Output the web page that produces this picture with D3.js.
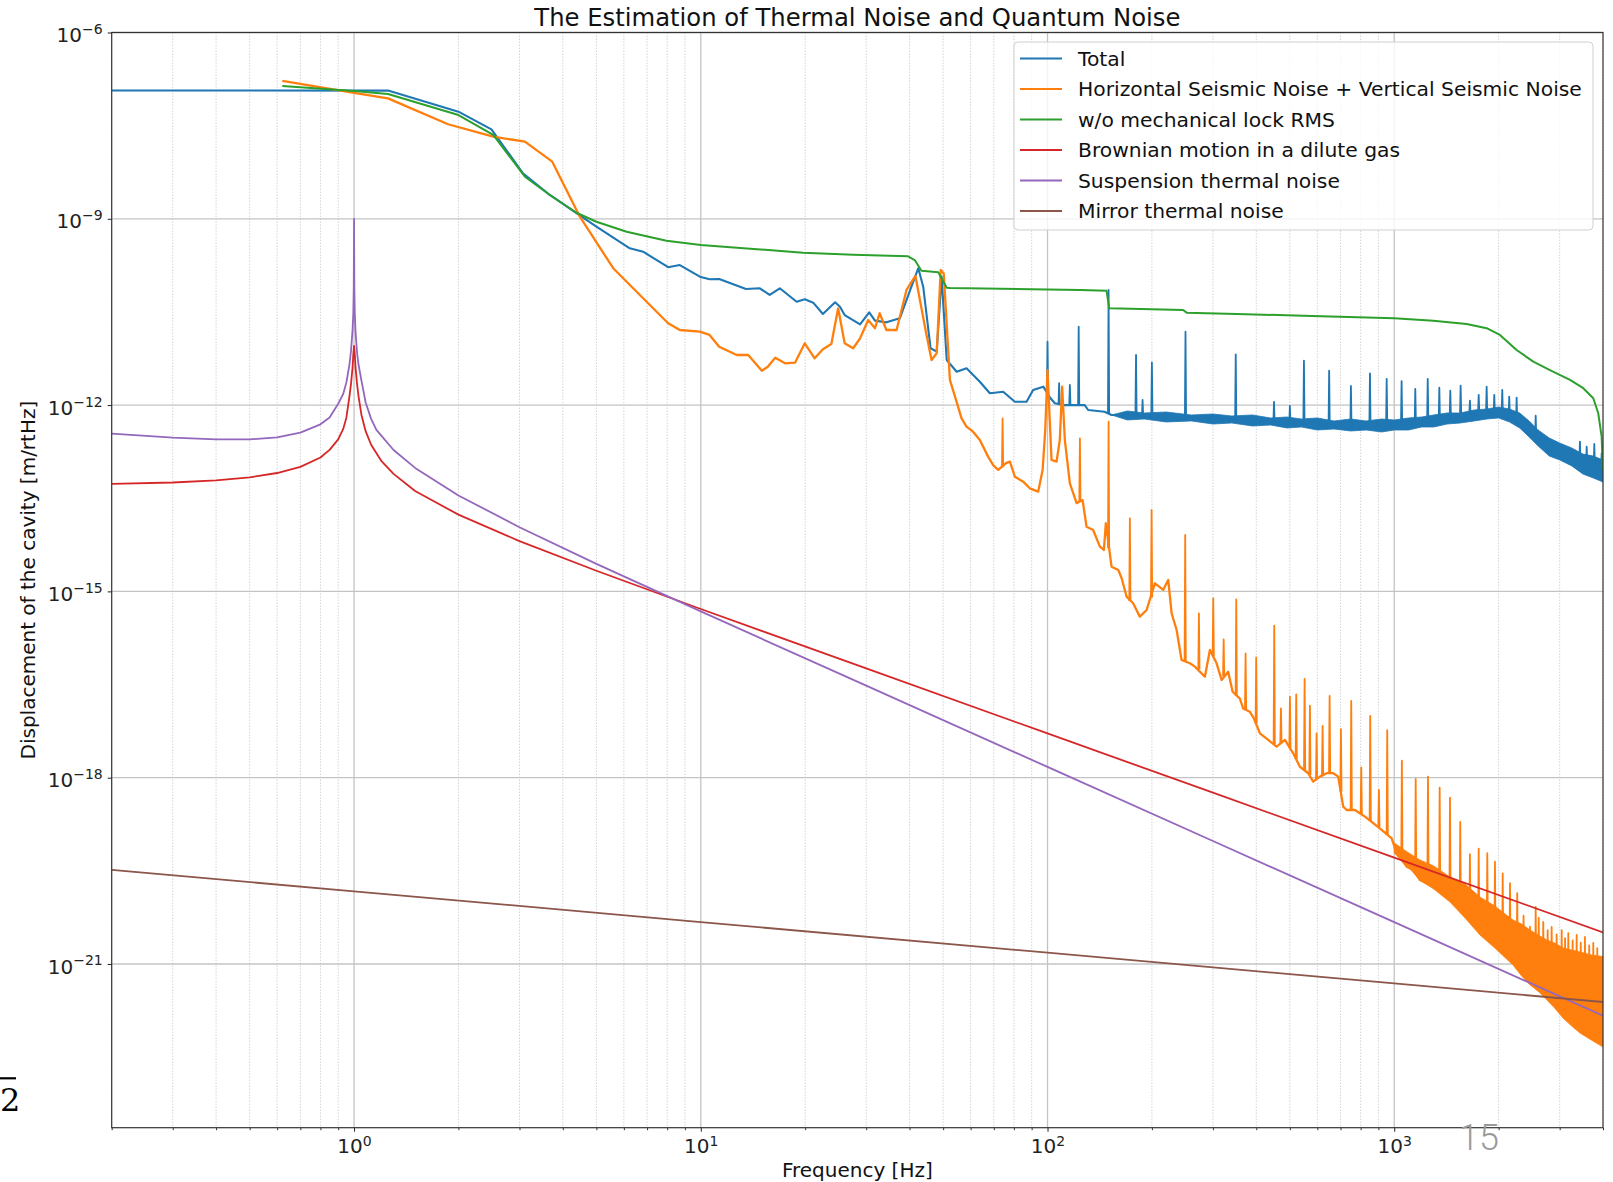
<!DOCTYPE html>
<html lang="en">
<head>
<meta charset="UTF-8">
<title>The Estimation of Thermal Noise and Quantum Noise</title>
<script src="https://d3js.org/d3.v7.min.js"></script>
<style>
  body { margin: 0; background: #fff; }
  svg { display: block; }
</style>
</head>
<body>
<div id="chart"></div>
<script>
const width = 1613;
const height = 1182;

// plot box in pixels
const plotLeft = 111.7, plotRight = 1603, plotTop = 32.5, plotBottom = 1127.7;

// ---------- values ----------
const seriesNames = [
  "Total",
  "Horizontal Seismic Noise + Vertical Seismic Noise",
  "w/o mechanical lock RMS",
  "Brownian motion in a dilute gas",
  "Suspension thermal noise",
  "Mirror thermal noise"
];

const xMajorTicks = [1, 10, 100, 1000];
const yMajorTicks = [1e-6, 1e-9, 1e-12, 1e-15, 1e-18, 1e-21];

// Total [Hz], [m/rtHz] - floor of the curve
const totalFreq = [0.2, 1.253, 2.0, 2.49, 3.07, 3.67, 4.38, 5.0, 6.24, 6.82, 8.05, 8.7, 9.94, 10.6, 11.3, 13.5, 14.8, 15.8, 16.9, 18.9,
  19.95, 21.1, 22.5, 24.4, 25.2, 26.0, 28.8, 30.6, 31.8, 34.3, 37.5, 40.5, 42.4, 43.8, 46.0, 47.9, 49.5, 51.2, 54.7, 58.4,
  63.8, 68.2, 74.5, 80.5, 87.0, 90.9, 97.2, 102, 105, 111, 119, 128, 131, 146, 153, 173, 183, 193.5, 204, 225,
  244, 256, 294, 342, 356, 438, 462, 510, 560, 635, 661, 735, 765, 834, 868, 934, 972, 1031, 1067, 1132,
  1170, 1227, 1268, 1328, 1373, 1429, 1477, 1526, 1578, 1632, 1675, 1726, 1778, 1820, 1875, 1913, 1977, 2018, 2086, 2113,
  2185, 2222, 2289, 2512, 2597, 2812, 3148, 3388, 3478, 3668, 3843, 4000];
const totalAmp = [1.165e-7, 1.16e-7, 5.31e-8, 2.76e-8, 5.41e-9, 2.42e-9, 1.23e-9, 7.46e-10, 3.35e-10, 2.95e-10, 1.66e-10, 1.80e-10, 1.17e-10, 1.06e-10, 1.07e-10, 7.41e-11, 7.60e-11, 5.93e-11, 7.60e-11, 4.62e-11,
  5.06e-11, 4.46e-11, 2.93e-11, 4.52e-11, 3.84e-11, 2.82e-11, 2.00e-11, 3.12e-11, 2.29e-11, 2.15e-11, 2.50e-11, 8.07e-11, 1.60e-10, 8.07e-11, 8.22e-12, 7.24e-12, 1.17e-10, 5.32e-12, 3.45e-12, 3.92e-12,
  2.38e-12, 1.55e-12, 1.64e-12, 1.13e-12, 1.13e-12, 1.75e-12, 1.98e-12, 1.29e-12, 1.07e-12, 1.00e-12, 1.00e-12, 1.00e-12, 8.34e-13, 7.83e-13, 6.93e-13, 6.93e-13, 6.50e-13, 6.67e-13, 6.19e-13, 7.19e-13,
  5.97e-13, 6.19e-13, 6.43e-13, 5.75e-13, 5.55e-13, 5.35e-13, 5.15e-13, 4.97e-13, 4.79e-13, 4.44e-13, 4.44e-13, 4.28e-13, 4.28e-13, 4.44e-13, 4.44e-13, 4.6e-13, 4.6e-13, 4.79e-13, 4.97e-13, 5.15e-13,
  5.15e-13, 5.55e-13, 5.55e-13, 5.97e-13, 5.97e-13, 6.43e-13, 6.43e-13, 6.93e-13, 6.93e-13, 7.19e-13, 7.46e-13, 7.75e-13, 7.75e-13, 7.75e-13, 7.75e-13, 7.46e-13, 7.46e-13, 7.46e-13, 6.93e-13, 6.68e-13,
  6.19e-13, 5.75e-13, 4.79e-13, 3.06e-13, 2.74e-13, 1.89e-13, 1.46e-13, 1.21e-13, 1.18e-13, 1.05e-13, 9.7e-14, 8.4e-14];

// Total - narrow lines (frequency, peak, level at the foot)
const totalSpikeFreq = [100, 108, 116, 123, 150, 180, 188, 200, 250, 349, 450, 500, 549, 649, 750, 851, 951, 1050, 1150, 1249,
  1349, 1451, 1554, 1653, 1752, 1847, 1943, 2049, 2146, 2254, 2558, 3432, 3589, 3775, 3964];
const totalSpikePeak = [1.05e-11, 2.25e-12, 2.11e-12, 1.83e-11, 7.14e-11, 6.41e-12, 1.21e-12, 4.89e-12, 1.52e-11, 6.58e-12, 1.13e-12, 9.68e-13, 5.19e-12, 3.58e-12, 2.03e-12, 3.25e-12, 2.63e-12, 2.44e-12, 1.82e-12, 2.63e-12,
  1.91e-12, 1.71e-12, 2.05e-12, 1.18e-12, 1.46e-12, 1.98e-12, 1.46e-12, 1.75e-12, 1.37e-12, 1.32e-12, 6.75e-13, 2.58e-13, 2.14e-13, 2.37e-13, 1.67e-13];
const totalSpikeFoot = [1.5e-12, 1.03e-12, 1.0e-12, 1.0e-12, 7.3e-13, 6.7e-13, 6.6e-13, 6.4e-13, 6.1e-13, 5.6e-13, 5.2e-13, 5.0e-13, 4.85e-13, 4.44e-13, 4.28e-13, 4.44e-13, 4.6e-13, 4.9e-13, 5.15e-13, 5.55e-13,
  5.97e-13, 6.43e-13, 6.93e-13, 7.3e-13, 7.75e-13, 7.75e-13, 7.46e-13, 7.2e-13, 6.4e-13, 5.3e-13, 2.9e-13, 1.2e-13, 1.1e-13, 1.0e-13, 9.0e-14];

// Total - spread of the dense noise
const totalBandFreq = [153, 170, 190, 220, 260, 300, 340, 390, 440, 490, 540, 600, 670, 750, 830, 920, 1000, 1100, 1200, 1300,
  1420, 1550, 1700, 1850, 2000, 2150, 2300, 2450, 2600, 2800, 3000, 3250, 3500, 3750, 4000];
const totalBandHigh = [6.93e-13, 8.04e-13, 7.46e-13, 7.74e-13, 6.93e-13, 7.19e-13, 6.67e-13, 6.93e-13, 6.20e-13, 6.43e-13, 5.97e-13, 6.20e-13, 5.55e-13, 5.97e-13, 5.55e-13, 5.97e-13, 5.76e-13, 6.20e-13, 6.43e-13, 6.93e-13,
  7.46e-13, 7.46e-13, 8.34e-13, 8.65e-13, 9.32e-13, 8.65e-13, 7.46e-13, 5.55e-13, 3.97e-13, 2.95e-13, 2.45e-13, 2.04e-13, 1.63e-13, 1.51e-13, 1.31e-13];
const totalBandLow = [6.93e-13, 5.76e-13, 5.97e-13, 5.35e-13, 5.55e-13, 4.96e-13, 5.15e-13, 4.61e-13, 4.78e-13, 4.28e-13, 4.44e-13, 3.97e-13, 4.12e-13, 3.83e-13, 3.97e-13, 3.69e-13, 3.97e-13, 3.97e-13, 4.44e-13, 4.44e-13,
  4.96e-13, 5.15e-13, 5.55e-13, 5.97e-13, 6.20e-13, 5.35e-13, 4.28e-13, 3.06e-13, 2.19e-13, 1.51e-13, 1.31e-13, 1.05e-13, 7.77e-14, 6.70e-14, 5.78e-14];

// Horizontal + Vertical seismic noise - floor of the curve
const seismicFreq = [0.621, 1.0, 1.253, 1.867, 2.52, 3.11, 3.73, 4.48, 5.59, 6.98, 8.05, 8.7, 9.94, 10.6, 11.3, 12.7, 13.7, 15.0, 15.6, 16.4,
  17.5, 18.7, 19.95, 21.3, 22.5, 23.8, 24.9, 26.0, 27.5, 28.8, 30.4, 31.8, 32.8, 34.3, 36.7, 39.2, 41.6, 44.3, 46.3, 47.9,
  49.2, 50.2, 52.3, 54.1, 56.5, 58.4, 61.0, 63.8, 67.4, 69.7, 72.1, 75.9, 77.9, 80.5, 85.1, 88.9, 94.0, 96.8, 98.5, 100,
  102.7, 106.2, 108.5, 110.2, 112.2, 116, 121.3, 126.2, 129.6, 135.4, 141.6, 145.4, 147.3, 153, 160, 163.6, 169.1, 176.6, 184.6, 193.1,
  204, 215.7, 222.9, 228, 235.7, 243.6, 257.4, 266.1, 284.4, 294, 307.4, 317.8, 331.9, 341.9, 358.8, 366.7, 383.4, 393.8, 409.8, 433.1,
  457.9, 483.9, 511.2, 534.5, 564.8, 583.8, 610.3, 638.3, 666.8, 689.3, 712.7, 729, 770.2, 823.1, 869.8, 919.5, 983, 1016, 1086, 1134,
  1186, 1296, 1400, 1497, 1618, 1709, 1787, 1910, 2018, 2133, 2254, 2305, 2431, 2512, 2594, 2757, 2927, 3108, 3255, 3454,
  3644, 3843, 4000];
const seismicAmp = [1.66e-7, 1.07e-7, 8.71e-8, 3.33e-8, 2.10e-8, 1.75e-8, 8.32e-9, 1.08e-9, 1.60e-10, 4.62e-11, 2.08e-11, 1.62e-11, 1.52e-11, 1.35e-11, 8.71e-12, 6.41e-12, 6.41e-12, 3.58e-12, 4.15e-12, 5.79e-12,
  4.71e-12, 4.82e-12, 9.89e-12, 5.67e-12, 7.93e-12, 9.64e-12, 3.62e-11, 9.89e-12, 8.22e-12, 1.19e-11, 2.34e-11, 1.73e-11, 3.01e-11, 1.62e-11, 1.62e-11, 7.14e-11, 1.20e-10, 1.83e-11, 5.32e-12, 6.83e-12,
  1.50e-10, 1.32e-10, 2.54e-12, 1.37e-12, 6.12e-13, 4.49e-13, 3.73e-13, 2.74e-13, 1.48e-13, 1.08e-13, 9.02e-14, 1.16e-13, 1.23e-13, 7.03e-14, 5.85e-14, 4.57e-14, 4.04e-14, 9.02e-14, 3.97e-13, 3.67e-12,
  1.31e-13, 1.23e-13, 2.74e-13, 1.98e-12, 2.74e-13, 5.51e-14, 2.63e-14, 2.97e-14, 1.10e-14, 9.75e-15, 5.25e-15, 4.65e-15, 1.25e-14, 2.50e-15, 2.21e-15, 1.63e-15, 8.22e-16, 6.43e-16, 3.92e-16, 5.01e-16,
  1.35e-15, 1.06e-15, 1.53e-15, 4.44e-16, 2.39e-16, 7.85e-17, 6.95e-17, 6.14e-17, 4.23e-17, 1.14e-16, 6.95e-17, 3.74e-17, 5.07e-17, 2.42e-17, 1.88e-17, 1.30e-17, 1.15e-17, 8.97e-18, 5.19e-18, 4.05e-18,
  3.16e-18, 4.05e-18, 2.47e-18, 1.50e-18, 1.18e-18, 8.63e-19, 1.04e-18, 1.18e-18, 1.18e-18, 1.04e-18, 3.41e-19, 3.02e-19, 3.02e-19, 2.36e-19, 1.85e-19, 1.44e-19, 1.05e-19, 6.07e-20, 3.69e-20, 3.27e-20,
  2.25e-20, 1.76e-20, 1.38e-20, 9.51e-21, 6.55e-21, 4.53e-21, 3.52e-21, 2.43e-21, 1.68e-21, 1.31e-21, 9.12e-22, 8.0e-22, 5.93e-22, 4.59e-22, 3.81e-22, 3.18e-22, 2.44e-22, 1.82e-22, 1.35e-22, 1.04e-22,
  8.0e-23, 5.97e-23, 4.97e-23];

// seismic - narrow lines
const seismicSpikeFreq = [74.2, 124, 150, 172.8, 199.6, 249.5, 273.3, 300.6, 322.1, 350.2, 372.6, 399.8, 450.7, 471.2, 500.2, 521.6, 551.4, 571.2, 597.1, 621.4,
  651, 701.8, 751.5, 803.2, 852.6, 903.2, 954.5, 1052, 1153, 1251, 1352, 1448, 1550, 1653, 1752, 1855, 1952, 2055, 2157, 2263,
  2360, 2463, 2558, 2610, 2690, 2770, 2844, 2940, 3040, 3110, 3177, 3270, 3358, 3450, 3548, 3650, 3750, 3850, 3964];
const seismicSpikePeak = [6.12e-13, 2.92e-13, 5.41e-13, 1.50e-14, 2.05e-14, 8.09e-15, 4.44e-16, 7.74e-16, 1.69e-16, 7.46e-16, 1.0e-16, 8.61e-17, 2.81e-16, 1.31e-17, 2.01e-17, 2.20e-17, 3.88e-17, 1.44e-17, 5.19e-18, 6.81e-18,
  2.07e-17, 6.03e-18, 1.72e-17, 1.47e-18, 9.91e-18, 6.34e-19, 5.81e-18, 1.88e-18, 9.53e-19, 1.04e-18, 6.90e-19, 4.76e-19, 1.95e-19, 5.85e-20, 7.19e-20, 6.07e-20, 4.44e-20, 2.88e-20, 2.0e-20, 1.38e-20,
  6.0e-21, 3.99e-21, 8.28e-21, 5.5e-21, 4.74e-21, 3.5e-21, 3.94e-21, 3.0e-21, 3.52e-21, 2.6e-21, 3.15e-21, 2.4e-21, 2.93e-21, 2.2e-21, 2.72e-21, 2.0e-21, 2.18e-21, 1.8e-21, 1.22e-21];
const seismicSpikeFoot = [1.0e-13, 2.8e-14, 5.0e-15, 7.0e-16, 8.0e-16, 7.3e-17, 5.5e-17, 9.0e-17, 4.3e-17, 2.1e-17, 1.25e-17, 7.5e-18, 3.5e-18, 3.6e-18, 3.0e-18, 2.0e-18, 1.3e-18, 1.1e-18, 9.5e-19, 1.1e-18,
  1.18e-18, 6.0e-19, 3.02e-19, 2.6e-19, 2.0e-19, 1.6e-19, 1.2e-19, 4.6e-20, 2.8e-20, 2.0e-20, 1.55e-20, 1.15e-20, 8.0e-21, 5.5e-21, 4.0e-21, 3.0e-21, 2.0e-21, 1.5e-21, 1.2e-21, 9.0e-22,
  7.0e-22, 5.3e-22, 4.2e-22, 3.7e-22, 3.4e-22, 3.1e-22, 2.8e-22, 2.4e-22, 2.0e-22, 1.8e-22, 1.6e-22, 1.35e-22, 1.2e-22, 1.05e-22, 9.0e-23, 8.0e-23, 7.0e-23, 6.0e-23, 5.2e-23];

// seismic - spread of the dense noise above 1 kHz
const seismicBandFreq = [1000, 1090, 1186, 1300, 1448, 1600, 1767, 1950, 2200, 2330, 2463, 2600, 2757, 2900, 3067, 3250, 3433, 3700, 4000];
const seismicBandHigh = [8.89e-20, 6.37e-20, 4.73e-20, 3.79e-20, 2.52e-20, 1.94e-20, 1.20e-20, 8.59e-21, 5.11e-21, 4.41e-21, 3.52e-21, 2.93e-21, 2.43e-21, 2.18e-21, 1.81e-21, 1.68e-21, 1.56e-21, 1.40e-21, 1.32e-21];
const seismicBandLow = [6.14e-20, 3.79e-20, 2.25e-20, 1.61e-20, 9.96e-21, 5.51e-21, 2.93e-21, 1.81e-21, 9.64e-22, 6.41e-22, 4.59e-22, 3.67e-22, 2.63e-22, 1.96e-22, 1.35e-22, 1.00e-22, 7.74e-23, 5.97e-23, 4.61e-23];

// w/o mechanical lock RMS
const noLockFreq = [0.621, 1.0, 1.253, 2.0, 2.52, 3.11, 3.67, 4.38, 5.0, 6.11, 7.96, 10.0, 14.2, 19.7, 27.5, 39.6, 41.4, 43.3, 48.4, 49.2,
  51.2, 52.3, 124, 148, 150.6, 246, 252, 351, 546, 1000, 1296, 1618, 1847, 2018, 2254, 2518, 2812, 3213, 3509, 3750,
  3876, 3964, 3995];
const noLockAmp = [1.375e-7, 1.143e-7, 1.023e-7, 4.69e-8, 2.24e-8, 4.76e-9, 2.42e-9, 1.25e-9, 8.97e-10, 6.19e-10, 4.44e-10, 3.79e-10, 3.27e-10, 2.85e-10, 2.64e-10, 2.49e-10, 2.17e-10, 1.46e-10, 1.375e-10, 1.17e-10,
  7.76e-11, 7.69e-11, 7.14e-11, 6.95e-11, 3.62e-11, 3.40e-11, 3.08e-11, 2.93e-11, 2.75e-11, 2.50e-11, 2.29e-11, 2.02e-11, 1.73e-11, 1.35e-11, 7.71e-12, 5.0e-12, 3.67e-12, 2.54e-12, 1.87e-12, 1.29e-12,
  7.38e-13, 3.10e-13, 9.0e-14];

// Brownian motion in a dilute gas
const brownianFreq = [0.2, 0.3, 0.4, 0.5, 0.6, 0.7, 0.8, 0.85, 0.9, 0.93, 0.95, 0.97, 0.98, 0.99, 0.995, 1.0, 1.005, 1.01, 1.02, 1.03,
  1.05, 1.08, 1.12, 1.2, 1.3, 1.5, 2, 3, 5, 10, 30, 100, 300, 1000, 4000];
const brownianAmp = [5.38e-14, 5.67e-14, 6.14e-14, 6.88e-14, 8.06e-14, 1.01e-13, 1.43e-13, 1.9e-13, 2.8e-13, 4.1e-13, 6.2e-13, 1.4e-12, 2.2e-12, 4.0e-12, 6.5e-12, 9.0e-12, 6.5e-12, 4.0e-12, 2.2e-12, 1.4e-12,
  7.0e-13, 3.8e-13, 2.3e-13, 1.25e-13, 7.8e-14, 4.13e-14, 1.72e-14, 6.45e-15, 2.15e-15, 5.21e-16, 5.74e-17, 5.16e-18, 5.73e-19, 5.16e-20, 3.22e-21];

// Suspension thermal noise
const suspensionFreq = [0.2, 0.3, 0.4, 0.5, 0.6, 0.7, 0.8, 0.85, 0.9, 0.93, 0.95, 0.97, 0.98, 0.99, 0.995, 0.998, 1.0, 1.002, 1.005, 1.01,
  1.02, 1.03, 1.05, 1.08, 1.12, 1.16, 1.2, 1.3, 1.5, 2, 3, 5, 10, 30, 100, 300, 1000, 4000];
const suspensionAmp = [3.47e-13, 2.99e-13, 2.80e-13, 2.81e-13, 3.01e-13, 3.6e-13, 4.9e-13, 6.3e-13, 1.05e-12, 1.5e-12, 2.3e-12, 4.5e-12, 7.5e-12, 1.6e-11, 3.0e-11, 8e-11, 1e-9, 8e-11, 3.0e-11, 1.5e-11,
  7.0e-12, 4.5e-12, 2.5e-12, 1.1e-12, 6.0e-13, 4.0e-13, 3.2e-13, 1.89e-13, 9.73e-14, 3.51e-14, 1.08e-14, 2.78e-15, 4.76e-16, 3.03e-17, 1.49e-18, 9.56e-20, 4.71e-21, 1.47e-22];

// Mirror thermal noise
const mirrorFreq = [0.2, 1, 10, 100, 1000, 4000];
const mirrorAmp = [3.27e-20, 1.48e-20, 4.73e-21, 1.52e-21, 4.86e-22, 2.44e-22];

const seriesColors = ["#1f77b4", "#ff7f0e", "#2ca02c", "#d62728", "#9467bd", "#8c564b"];

// ---------- scales ----------
const x = d3.scaleLog().domain([0.2, 4000]).range([plotLeft, plotRight]);
const y = d3.scaleLog().domain([2.31e-24, 1e-6]).range([plotBottom, plotTop]);

const svg = d3.select("#chart")
  .append("svg")
  .attr("width", width)
  .attr("height", height)
  .attr("font-family", "'DejaVu Sans', sans-serif");

svg.append("rect").attr("width", width).attr("height", height).attr("fill", "#fff");

svg.append("clipPath").attr("id", "plotClip")
  .append("rect")
  .attr("x", plotLeft).attr("y", plotTop)
  .attr("width", plotRight - plotLeft).attr("height", plotBottom - plotTop);

// grid
const isDecade = t => Math.abs(Math.log10(t) - Math.round(Math.log10(t))) < 1e-6;
const minorX = x.ticks().filter(t => !isDecade(t));

svg.append("g").selectAll("line")
  .data(minorX)
  .join("line")
  .attr("x1", d => x(d)).attr("x2", d => x(d))
  .attr("y1", plotTop).attr("y2", plotBottom)
  .attr("stroke", "#d4d4d4")
  .attr("stroke-width", 1)
  .attr("stroke-dasharray", "1.5,1.5");

svg.append("g").selectAll("line")
  .data(xMajorTicks)
  .join("line")
  .attr("x1", d => x(d)).attr("x2", d => x(d))
  .attr("y1", plotTop).attr("y2", plotBottom)
  .attr("stroke", "#c4c4c4")
  .attr("stroke-width", 1.3);

svg.append("g").selectAll("line")
  .data(yMajorTicks)
  .join("line")
  .attr("x1", plotLeft).attr("x2", plotRight)
  .attr("y1", d => y(d)).attr("y2", d => y(d))
  .attr("stroke", "#c4c4c4")
  .attr("stroke-width", 1.3);

// curves
const plot = svg.append("g").attr("clip-path", "url(#plotClip)");

const line = d3.line().x(d => x(d[0])).y(d => y(d[1]));
const band = d3.area().x(d => x(d[0])).y0(d => y(d[2])).y1(d => y(d[1]));
const spikeWidth = 1.004;   // half width of a narrow line, as a frequency ratio

function drawBand(freq, hi, lo, color) {
  plot.append("path")
    .datum(d3.zip(freq, hi, lo))
    .attr("d", band)
    .attr("fill", color)
    .attr("stroke", color)
    .attr("stroke-width", 0.8)
    .attr("stroke-linejoin", "round");
}

function drawSpikes(freq, peak, foot, color) {
  plot.append("g").selectAll("path")
    .data(d3.zip(freq, peak, foot))
    .join("path")
    .attr("d", d => line([[d[0] / spikeWidth, d[2]], [d[0], d[1]], [d[0] * spikeWidth, d[2]]]))
    .attr("fill", "none")
    .attr("stroke", color)
    .attr("stroke-width", 1.8)
    .attr("stroke-linejoin", "round");
}

function drawLine(freq, amp, color, w) {
  plot.append("path")
    .datum(d3.zip(freq, amp))
    .attr("d", line)
    .attr("fill", "none")
    .attr("stroke", color)
    .attr("stroke-width", w)
    .attr("stroke-linejoin", "round");
}

drawBand(totalBandFreq, totalBandHigh, totalBandLow, seriesColors[0]);
drawLine(totalFreq, totalAmp, seriesColors[0], 2.1);
drawSpikes(totalSpikeFreq, totalSpikePeak, totalSpikeFoot, seriesColors[0]);

drawBand(seismicBandFreq, seismicBandHigh, seismicBandLow, seriesColors[1]);
drawLine(seismicFreq, seismicAmp, seriesColors[1], 2.3);
drawSpikes(seismicSpikeFreq, seismicSpikePeak, seismicSpikeFoot, seriesColors[1]);

drawLine(noLockFreq, noLockAmp, seriesColors[2], 2);
drawLine(brownianFreq, brownianAmp, seriesColors[3], 1.8);
drawLine(suspensionFreq, suspensionAmp, seriesColors[4], 1.8);
drawLine(mirrorFreq, mirrorAmp, seriesColors[5], 1.8);

// frame
svg.append("rect")
  .attr("x", plotLeft).attr("y", plotTop)
  .attr("width", plotRight - plotLeft).attr("height", plotBottom - plotTop)
  .attr("fill", "none")
  .attr("stroke", "#333")
  .attr("stroke-width", 1.2);

// axes
function powerLabel(sel, raise) {
  sel.selectAll(".tick text").each(function(d) {
    const e = Math.round(Math.log10(d));
    const t = d3.select(this).text(null);
    t.append("tspan").text("10");
    t.append("tspan").attr("dy", -raise).attr("font-size", 14)
      .text(e < 0 ? "\u2212" + (-e) : String(e));
  });
}

const gx = svg.append("g")
  .attr("transform", `translate(0,${plotBottom})`)
  .call(d3.axisBottom(x).tickValues(xMajorTicks).tickSize(4).tickPadding(7.4).tickFormat(() => ""));
gx.select(".domain").remove();
gx.attr("font-size", 20).attr("font-family", "'DejaVu Sans', sans-serif").attr("color", "#222");
powerLabel(gx, 7.5);

const gxMinor = svg.append("g")
  .attr("transform", `translate(0,${plotBottom})`)
  .call(d3.axisBottom(x).tickValues(minorX).tickSize(2.5).tickFormat(""));
gxMinor.select(".domain").remove();
gxMinor.attr("color", "#333");

const gy = svg.append("g")
  .attr("transform", `translate(${plotLeft},0)`)
  .call(d3.axisLeft(y).tickValues(yMajorTicks).tickSize(4).tickPadding(5).tickFormat(() => ""));
gy.select(".domain").remove();
gy.attr("font-size", 20).attr("font-family", "'DejaVu Sans', sans-serif").attr("color", "#222");
gy.selectAll(".tick text").attr("dy", "0.46em");
powerLabel(gy, 8.2);

// titles
svg.append("text")
  .attr("x", (plotLeft + plotRight) / 2).attr("y", 26)
  .attr("text-anchor", "middle")
  .attr("font-size", 24.3)
  .attr("fill", "#111")
  .text("The Estimation of Thermal Noise and Quantum Noise");

svg.append("text")
  .attr("x", (plotLeft + plotRight) / 2).attr("y", 1177)
  .attr("text-anchor", "middle")
  .attr("font-size", 20)
  .attr("fill", "#111")
  .text("Frequency [Hz]");

svg.append("text")
  .attr("transform", `translate(28,${(plotTop + plotBottom) / 2}) rotate(-90)`)
  .attr("text-anchor", "middle")
  .attr("dy", "0.35em")
  .attr("font-size", 20)
  .attr("fill", "#111")
  .text("Displacement of the cavity [m/rtHz]");

// legend
const legendLeft = 1014, legendRight = 1593, legendTop = 42, legendBottom = 230;
const legend = svg.append("g");
legend.append("rect")
  .attr("x", legendLeft).attr("y", legendTop)
  .attr("width", legendRight - legendLeft).attr("height", legendBottom - legendTop)
  .attr("rx", 4)
  .attr("fill", "#fff").attr("fill-opacity", 0.8)
  .attr("stroke", "#d0d0d0").attr("stroke-width", 1);

const rowGap = 30.46;
const rows = legend.selectAll(".row")
  .data(seriesNames)
  .join("g")
  .attr("transform", (d, i) => `translate(0,${legendTop + 16.6 + i * rowGap})`);

rows.append("line")
  .attr("x1", legendLeft + 6).attr("x2", legendLeft + 48)
  .attr("stroke", (d, i) => seriesColors[i])
  .attr("stroke-width", 2);

rows.append("text")
  .attr("x", legendLeft + 64)
  .attr("dy", "0.35em")
  .attr("font-size", 20.3)
  .attr("fill", "#111")
  .text(d => d);

// slide leftovers around the figure
svg.append("line")
  .attr("x1", 0).attr("x2", 16).attr("y1", 1078.3).attr("y2", 1078.3)
  .attr("stroke", "#000").attr("stroke-width", 2.2);
svg.append("text")
  .attr("x", 0).attr("y", 1111)
  .attr("font-family", "'DejaVu Serif', 'Liberation Serif', serif")
  .attr("font-size", 32)
  .attr("fill", "#000")
  .text("2");
svg.append("text")
  .attr("x", 1459).attr("y", 1150)
  .attr("font-family", "'Liberation Sans Narrow', 'Roboto', sans-serif")
  .attr("font-weight", 300)
  .attr("font-size", 36)
  .attr("fill", "#9a9a9a")
  .text("15");
</script>
</body>
</html>
